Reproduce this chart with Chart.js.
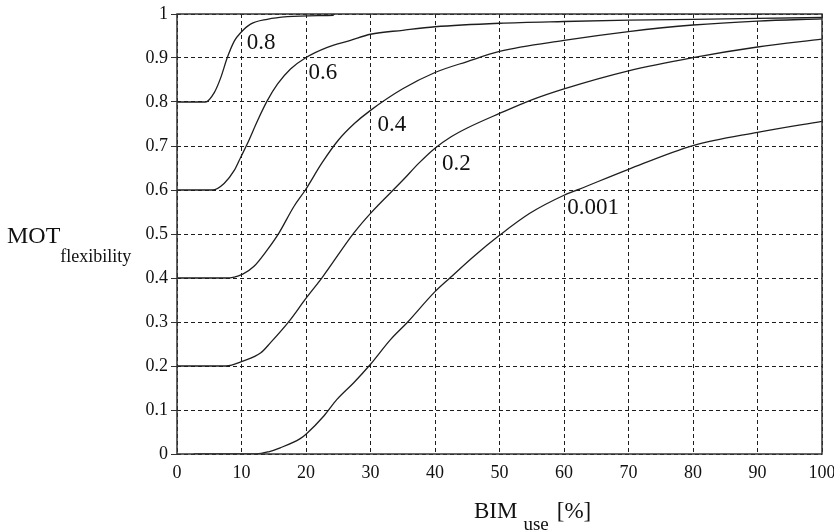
<!DOCTYPE html>
<html>
<head>
<meta charset="utf-8">
<script src="https://cdn.jsdelivr.net/npm/chart.js@4/dist/chart.umd.min.js"></script>
<style>
  html, body { margin: 0; padding: 0; background: #fff; }
  canvas { display: block; }
</style>
</head>
<body>
<canvas id="motChart" width="834" height="531"></canvas>
<script>
// values (BIM use % -> MOT flexibility)
const curve08X = [0, 4.4, 5.8, 6.8, 7.8, 8.9, 9.9, 11.4, 14, 17.1, 24.3];
const curve08Y = [0.8, 0.8, 0.822, 0.856, 0.901, 0.939, 0.958, 0.977, 0.988, 0.994, 0.997];

const curve06X = [0, 5.5, 7.3, 8.9, 9.9, 10.9, 12.5, 14, 15.6, 17.6, 19.9, 23.3, 26.9, 30, 35, 40, 50, 60, 70, 80, 90, 100];
const curve06Y = [0.6, 0.6, 0.615, 0.645, 0.675, 0.705, 0.758, 0.803, 0.841, 0.875, 0.9, 0.924, 0.94, 0.954, 0.963, 0.971, 0.979, 0.983, 0.986, 0.988, 0.99, 0.992];

const curve04X = [0, 7.6, 10.2, 11.9, 14, 15.8, 18.1, 19.9, 22.5, 25, 27.5, 30, 35, 40, 45, 50, 60, 70, 80, 90, 100];
const curve04Y = [0.4, 0.4, 0.409, 0.426, 0.464, 0.502, 0.562, 0.6, 0.662, 0.713, 0.751, 0.781, 0.83, 0.867, 0.892, 0.915, 0.94, 0.96, 0.975, 0.984, 0.989];

const curve02X = [0, 7.6, 10.2, 13, 14.5, 17.4, 19.9, 22.5, 27.4, 30, 35, 37.5, 40, 42.5, 45, 50, 55, 60, 70, 80, 90, 100];
const curve02Y = [0.2, 0.2, 0.211, 0.23, 0.253, 0.302, 0.352, 0.401, 0.502, 0.547, 0.622, 0.661, 0.695, 0.721, 0.741, 0.774, 0.805, 0.83, 0.871, 0.901, 0.925, 0.943];

const curve0001X = [2.6, 12.3, 14.2, 16, 19.1, 20, 22.8, 24.8, 27.4, 30, 33.1, 35.7, 40, 42.3, 46, 50, 54.7, 60, 62.4, 70, 80, 90, 100];
const curve0001Y = [0, 0, 0.005, 0.014, 0.035, 0.045, 0.087, 0.124, 0.162, 0.204, 0.26, 0.299, 0.369, 0.4, 0.449, 0.497, 0.547, 0.588, 0.602, 0.647, 0.701, 0.731, 0.756];

const curveNames = ['0.8', '0.6', '0.4', '0.2', '0.001'];
// where each curve's name sits (left edge / baseline, in data units)
const labelX = [10.8, 20.4, 31.1, 41.1, 60.5];
const labelY = [0.92, 0.852, 0.734, 0.646, 0.546];

const xTicks = [0, 10, 20, 30, 40, 50, 60, 70, 80, 90, 100];
const yTicks = [0, 0.1, 0.2, 0.3, 0.4, 0.5, 0.6, 0.7, 0.8, 0.9, 1];

const FONT = "'Liberation Serif', 'DejaVu Serif', serif";
const INK = '#1e1e1e';

const toPoints = (xs, ys) => xs.map((x, i) => ({ x: x, y: ys[i] }));

const series = [
    toPoints(curve08X, curve08Y),
    toPoints(curve06X, curve06Y),
    toPoints(curve04X, curve04Y),
    toPoints(curve02X, curve02Y),
    toPoints(curve0001X, curve0001Y)
];

const datasets = series.map((pts, i) => {
    return {
        label: curveNames[i],
        data: pts,
        borderColor: INK,
        borderWidth: 1.3,
        pointRadius: 0,
        fill: false,
        cubicInterpolationMode: 'monotone'
    };
});

// frame, curve names and the axis titles with subscripts
const decor = {
    id: 'decor',
    afterDatasetsDraw(chart) {
        const { ctx, chartArea, scales } = chart;
        ctx.save();
        ctx.strokeStyle = '#333';
        ctx.lineWidth = 1.5;
        ctx.strokeRect(chartArea.left, chartArea.top, chartArea.right - chartArea.left, chartArea.bottom - chartArea.top);

        ctx.fillStyle = '#111';
        ctx.textBaseline = 'alphabetic';
        ctx.textAlign = 'left';
        ctx.font = '23px ' + FONT;
        curveNames.forEach((name, i) => {
            ctx.fillText(name, scales.x.getPixelForValue(labelX[i]), scales.y.getPixelForValue(labelY[i]));
        });

        // y title
        ctx.font = '24px ' + FONT;
        ctx.fillText('MOT', 7, 243);
        let w = ctx.measureText('MOT').width;
        ctx.font = '18px ' + FONT;
        ctx.fillText('flexibility', 7 + w, 262);

        // x title
        ctx.font = '23px ' + FONT;
        ctx.fillText('BIM', 474, 518);
        w = ctx.measureText('BIM').width;
        ctx.font = '19px ' + FONT;
        ctx.fillText('use', 474 + w + 6, 530);
        const w2 = ctx.measureText('use').width;
        ctx.font = '23px ' + FONT;
        ctx.fillText('[%]', 474 + w + 6 + w2 + 8, 518);
        ctx.restore();
    }
};

new Chart(document.getElementById('motChart').getContext('2d'), {
    type: 'line',
    data: { datasets: datasets },
    options: {
        responsive: false,
        animation: false,
        devicePixelRatio: 1,
        layout: { padding: { left: 0, top: 14, right: 12, bottom: 0 } },
        plugins: {
            legend: { display: false },
            tooltip: { enabled: false }
        },
        scales: {
            x: {
                type: 'linear',
                min: 0,
                max: 100,
                afterBuildTicks: (scale) => { scale.ticks = xTicks.map(v => ({ value: v })); },
                afterFit: (scale) => { scale.height = 77; scale.paddingLeft = 0; scale.paddingRight = 0; },
                ticks: {
                    color: '#111',
                    font: { family: FONT, size: 18 },
                    padding: 8,
                    maxRotation: 0
                },
                grid: { color: INK, lineWidth: 1, drawTicks: false },
                border: { display: false, dash: [4, 3] }
            },
            y: {
                type: 'linear',
                min: 0,
                max: 1,
                afterBuildTicks: (scale) => { scale.ticks = yTicks.map(v => ({ value: v })); },
                afterFit: (scale) => { scale.width = 177; scale.paddingTop = 0; scale.paddingBottom = 0; },
                ticks: {
                    color: '#111',
                    font: { family: FONT, size: 18 },
                    padding: 3,
                    callback: (v) => String(Math.round(v * 10) / 10)
                },
                grid: { color: INK, lineWidth: 1, tickLength: 6, tickBorderDash: [], tickColor: '#333' },
                border: { display: false, dash: [4, 3] }
            }
        }
    },
    plugins: [decor]
});
</script>
</body>
</html>
